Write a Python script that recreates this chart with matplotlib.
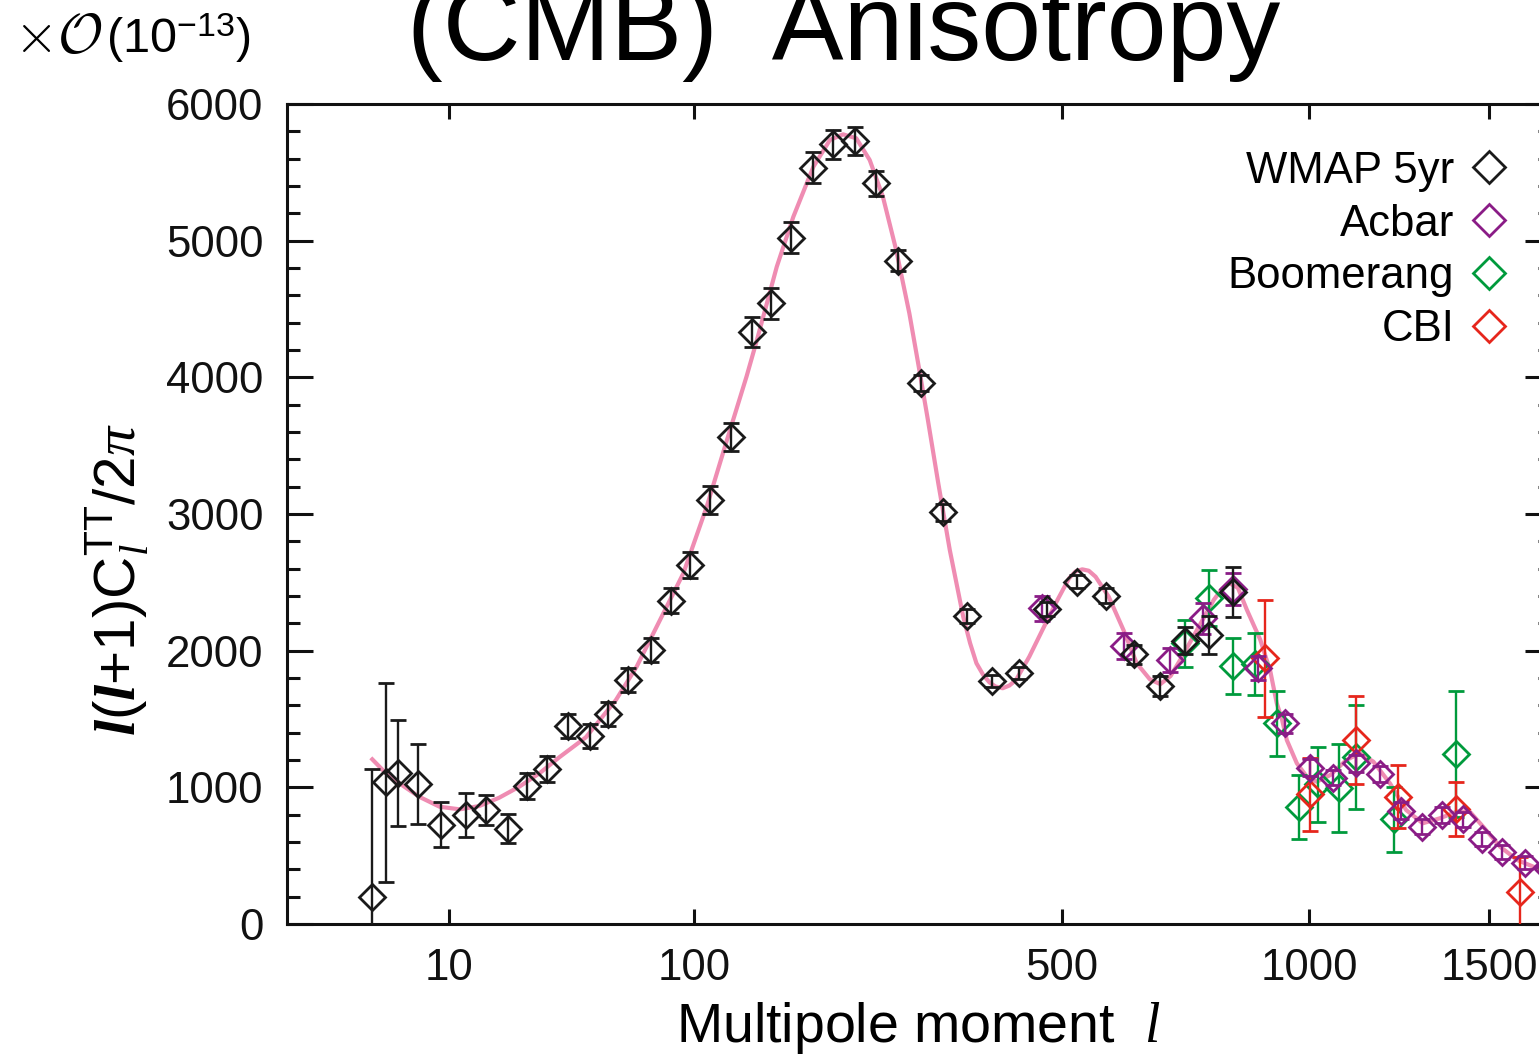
import numpy as np
import matplotlib
matplotlib.use('Agg')
import matplotlib.pyplot as plt
from matplotlib.ticker import MultipleLocator, NullLocator, FixedLocator
from matplotlib.lines import Line2D

plt.rcParams['font.family'] = ['Liberation Sans', 'DejaVu Sans']
plt.rcParams['mathtext.fontset'] = 'custom'
plt.rcParams['mathtext.rm'] = 'Liberation Sans'
plt.rcParams['mathtext.it'] = 'Liberation Serif:italic'
plt.rcParams['mathtext.bf'] = 'Liberation Sans:bold'
plt.rcParams['mathtext.bfit'] = 'Liberation Serif:italic:bold'

# WMAP 5yr binned points (multipole, l(l+1)C_l/2pi, error)
wmap_ell = [2, 2.9, 3.9, 5.9, 8.8, 12.8, 16.8, 21.8, 26.7, 32.6, 39.6, 47.8, 55.2, 64.4,
            75.5, 86.5, 97.4, 110.3, 124.3, 139.4, 154, 170.7, 190.3, 208.8, 230.2, 252,
            276.7, 302.7, 330.4, 361.4, 395.6, 434.5, 476.4, 525.4, 574.9, 624.4, 674.6,
            723.6, 773, 823.7]
wmap_val = [200, 1037, 1103, 1024, 727, 795, 836, 697, 1010, 1134, 1449, 1376, 1537, 1785,
            2005, 2366, 2627, 3102, 3566, 4334, 4542, 5022, 5534, 5705, 5729, 5420,
            4853, 3961, 3012, 2256, 1778, 1839, 2305, 2505, 2402, 1973, 1741,
            2073, 2115, 2431]
wmap_err = [934, 728, 387, 295, 166, 161, 110, 105, 95, 95, 85, 85, 85, 86,
            88, 93, 98, 103, 103, 110, 112, 115, 112, 108, 104, 92,
            77, 58, 60, 50, 45, 45, 50, 50, 55, 67, 73,
            100, 138, 183]

acbar_ell = [468.7, 606.3, 694.4, 761, 823.7, 880, 942.6, 1002.6, 1061, 1119, 1183, 1240,
             1299, 1358, 1419, 1479, 1540, 1615, 1690]
acbar_val = [2310, 2036, 1932, 2237, 2449, 1871, 1469, 1144, 1070, 1176, 1095, 829,
             712, 800, 766, 620, 529, 449, 400]
acbar_err = [93, 95, 89, 112, 118, 88, 70, 61, 55, 62, 58, 61,
             56, 58, 56, 50, 50, 45, 45]

boom_ell = [724, 773, 823.7, 872.3, 923.4, 974.6, 1023, 1074, 1119, 1220, 1399]
boom_val = [2054, 2388, 1888, 1900, 1469, 854, 1022, 993, 1224, 768, 1244]
boom_err = [170, 205, 205, 228, 237, 234, 273, 323, 381, 238, 463]

cbi_ell = [896, 1002.6, 1119, 1233, 1399, 1598]
cbi_val = [1944, 949, 1346, 931, 839, 232]
cbi_err = [427, 268, 324, 229, 198, 256]

# best fit model curve
model_ell = [2, 2.9, 4, 6, 8.6, 11.7, 15.3, 19.6, 24.6, 30.3, 36.6, 46.2, 58.7, 68.4, 80.4,
             93.6, 108, 121.5, 135.5, 143.3, 158.9, 172.7, 190.3, 205.6, 218.3, 231.5,
             245.4, 259.5, 274.2, 289.3, 300, 311, 324.1, 338.6, 356, 365.2, 373.7, 383,
             391.6, 400, 410.3, 420, 429.6, 449.5, 469.6, 490.6, 512.1, 523, 534.1, 545,
             556.7, 579.6, 606, 630.2, 655, 675, 695, 714, 748, 783, 800, 815, 835, 855,
             885, 908, 923, 935, 946.6, 970.5, 994.7, 1019, 1053, 1094, 1129, 1165, 1210,
             1255, 1302, 1351, 1402, 1441, 1482, 1535, 1590, 1655, 1700]
model_val = [1205, 1103, 1029, 931, 858, 839, 863, 924, 1005, 1103, 1220, 1366, 1639, 1883, 2224,
             2566, 3053, 3541, 4006, 4273, 4809, 5175, 5541, 5737, 5778, 5749,
             5590, 5322, 4932, 4468, 4090, 3700, 3225, 2737, 2249, 2054, 1908, 1822,
             1768, 1738, 1725, 1745, 1785, 1956, 2151, 2347, 2529, 2580, 2595, 2585,
             2541, 2395, 2151, 1908, 1790, 1755, 1815, 1932, 2151, 2371, 2450, 2497, 2460, 2298,
             2080, 1850, 1615, 1500, 1346, 1176, 1078, 1041, 1090, 1200, 1249, 1188, 1029,
             834, 737, 773, 822, 822, 712, 566, 468, 408, 380]

x_ticks = [10, 100, 500, 1000, 1500]
labels = ['WMAP 5yr', 'Acbar', 'Boomerang', 'CBI']
colors = ['#1a1a1a', '#8a1c86', '#009a3c', '#e6261c']


def fwd(x):
    x = np.asarray(x, dtype=float)
    return np.sign(x) * np.abs(x) ** 0.4


def inv(x):
    x = np.asarray(x, dtype=float)
    return np.sign(x) * np.abs(x) ** 2.5


fig = plt.figure(figsize=(15.39, 10.57), dpi=100)
ax = fig.add_axes([287.2 / 1539, 133 / 1057, 1263.4 / 1539, 820 / 1057])
ax.set_xscale('function', functions=(fwd, inv))

ax.plot(model_ell, model_val, color='#ef8cb2', lw=3.0, zorder=1)

datasets = [(boom_ell, boom_val, boom_err, colors[2]),
            (cbi_ell, cbi_val, cbi_err, colors[3]),
            (acbar_ell, acbar_val, acbar_err, colors[1]),
            (wmap_ell, wmap_val, wmap_err, colors[0])]
for i, (e, v, err, c) in enumerate(datasets):
    ax.errorbar(e, v, yerr=err, fmt='D', mfc='none', mec=c, ecolor=c, ms=13, mew=2.0,
                elinewidth=1.7, capsize=5.5, capthick=1.9, zorder=2 + i)

ax.set_xlim(0, 1700)
ax.set_ylim(0, 6000)
ax.xaxis.set_major_locator(FixedLocator(x_ticks))
ax.xaxis.set_minor_locator(NullLocator())
ax.set_xticklabels([str(t) for t in x_ticks])
ax.yaxis.set_major_locator(MultipleLocator(1000))
ax.yaxis.set_minor_locator(MultipleLocator(200))

ax.tick_params(axis='both', which='both', direction='in', top=True, right=True,
               labelsize=31.5, width=2.2, colors='#111111')
ax.tick_params(axis='x', which='major', length=10.8, pad=17)
ax.tick_params(axis='y', which='major', length=18.7, pad=17)
ax.tick_params(axis='y', which='minor', length=9.4)
for s in ax.spines.values():
    s.set_linewidth(2.2)
    s.set_color('#111111')

ax.set_xlabel('Multipole moment  $\\mathit{l}$', fontsize=40, labelpad=8)
ax.set_ylabel('$\\mathbfit{l}$($\\mathbfit{l}$+1)C$_{\\mathit{l}}^{\\mathrm{TT}}$/2$\\pi$',
              fontsize=42)
ax.yaxis.set_label_coords(-0.108, 0.42)

handles = [Line2D([], [], ls='none', marker='D', mfc='none', mec=c, ms=16, mew=2.0)
           for c in colors]
ax.legend(handles, labels, loc='upper right', bbox_to_anchor=(0.9687, 0.943),
          frameon=False, markerfirst=False, handlelength=1.0, handletextpad=0.3,
          labelspacing=0.27, borderpad=0, borderaxespad=0, fontsize=31.5)

fig.text(844 / 1539, 1 - 60 / 1057, '(CMB)  Anisotropy', ha='center', va='baseline',
         fontsize=77.5)
fig.text(14 / 1539, 1 - 53 / 1057, r'$\times\mathcal{O}$', ha='left', va='baseline',
         fontsize=40, math_fontfamily='cm')
fig.text(106 / 1539, 1 - 53 / 1057, '(10$^{-13}$)', ha='left', va='baseline', fontsize=35)

fig.savefig('out.png', dpi=100)
